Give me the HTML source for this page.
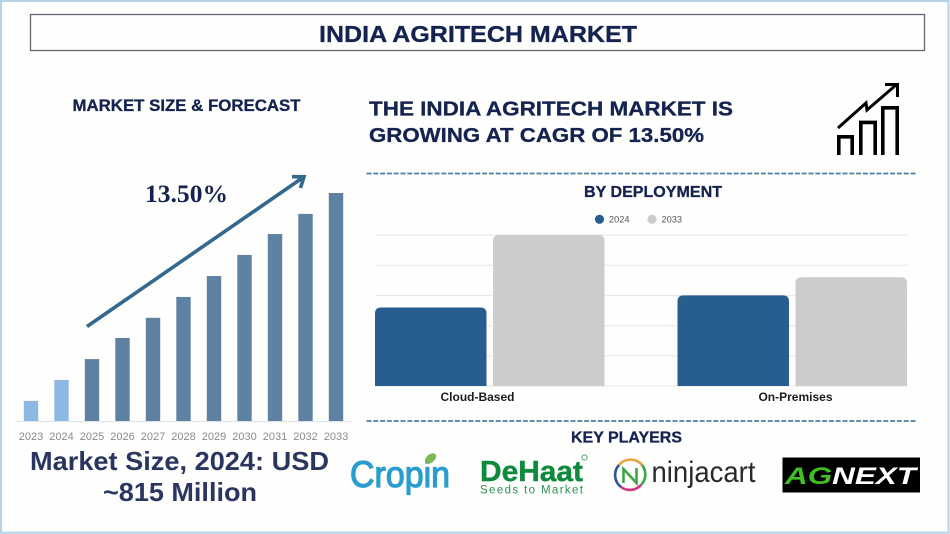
<!DOCTYPE html>
<html lang="en">
<head>
<meta charset="utf-8">
<title>India Agritech Market</title>
<style>
html,body{margin:0;padding:0;background:#fefefd;}
svg{display:block;}
text{font-family:"Liberation Sans",sans-serif;}
.navy{fill:#14234f;font-weight:700;stroke:#14234f;stroke-width:0.3;}
</style>
</head>
<body>
<svg id="infographic" xmlns="http://www.w3.org/2000/svg" width="950" height="534" viewBox="0 0 950 534">
  <rect x="0" y="0" width="950" height="534" fill="#fefefd"/>
  <rect x="1" y="1" width="947.5" height="531.7" fill="none" stroke="#b4d2e8" stroke-width="2"/>
  <rect x="30.5" y="14.5" width="894" height="36" fill="none" stroke="#62666f" stroke-width="1.3"/>
  <text class="navy" x="319" y="42" font-size="23" textLength="318" lengthAdjust="spacingAndGlyphs">INDIA AGRITECH MARKET</text>

  <text class="navy" x="72.5" y="111" font-size="16.5" textLength="228" lengthAdjust="spacingAndGlyphs">MARKET SIZE &amp; FORECAST</text>
  <text x="145" y="202" font-size="25" font-weight="700" fill="#14234f" style="font-family:'Liberation Serif',serif" textLength="83" lengthAdjust="spacingAndGlyphs">13.50%</text>

  <g id="forecast-chart"></g>

  <g fill="none" stroke="#33688f" stroke-width="3.6">
    <line x1="87" y1="326.5" x2="303" y2="177.5"/>
    <polyline points="292,176.7 304,176.8 300.5,188"/>
  </g>

  <text x="30" y="470" font-size="26" font-weight="700" fill="#2a3560" textLength="299" lengthAdjust="spacingAndGlyphs">Market Size, 2024: USD</text>
  <text x="103" y="501" font-size="26" font-weight="700" fill="#2a3560" textLength="154" lengthAdjust="spacingAndGlyphs">~815 Million</text>

  <text class="navy" x="369" y="115.5" font-size="20" textLength="364" lengthAdjust="spacingAndGlyphs">THE INDIA AGRITECH MARKET IS</text>
  <text class="navy" x="369" y="142" font-size="20" textLength="335" lengthAdjust="spacingAndGlyphs">GROWING AT CAGR OF 13.50%</text>

  <g fill="none" stroke="#000" stroke-width="3.6">
    <path d="M838.8 155V136.8H852.2V155"/>
    <path d="M860.8 155V122.4H875.2V155"/>
    <path d="M882.8 155V107.8H897.2V155"/>
    <polyline points="838,128 866,103 867,110 896,85" stroke-width="3"/>
    <polyline points="885,84.5 897.5,84.5 897.5,97" stroke-width="3"/>
  </g>

  <line x1="366.5" y1="173.5" x2="917" y2="173.5" stroke="#4d7fa3" stroke-width="1.8" stroke-dasharray="5 1.8"/>
  <text class="navy" x="584" y="197" font-size="16" textLength="138" lengthAdjust="spacingAndGlyphs">BY DEPLOYMENT</text>

  <g id="deployment-chart"></g>

  <line x1="366.5" y1="421" x2="917" y2="421" stroke="#4d7fa3" stroke-width="1.8" stroke-dasharray="5 1.8"/>
  <text class="navy" x="571" y="442.5" font-size="16" textLength="111" lengthAdjust="spacingAndGlyphs">KEY PLAYERS</text>

  <g>
    <text x="350" y="487" font-size="37" fill="#2a9dd0" stroke="#2a9dd0" stroke-width="1.2" textLength="100" lengthAdjust="spacingAndGlyphs">Cropin</text>
    <ellipse cx="430.5" cy="458.5" rx="6.5" ry="4" transform="rotate(-40 430.5 458.5)" fill="#7db55a"/>
  </g>

  <g>
    <text x="480" y="481" font-size="29" font-weight="700" fill="#0e8a3e" stroke="#0e8a3e" stroke-width="0.4" textLength="103" lengthAdjust="spacingAndGlyphs">DeHaat</text>
    <text x="480" y="493.5" font-size="11.5" fill="#2f8f57" textLength="103" lengthAdjust="spacing">Seeds to Market</text>
    <circle cx="584.5" cy="457.5" r="2.6" fill="none" stroke="#5fa87c" stroke-width="1"/>
  </g>

  <g>
    <g fill="none" stroke-width="2.6">
      <path d="M619 465A15 15 0 0 1 642 465" stroke="#e8a33d"/>
      <path d="M642 465A15 15 0 0 1 641 485" stroke="#3fa648"/>
      <path d="M641 485A15 15 0 0 1 621 487" stroke="#d8327e"/>
      <path d="M621 487A15 15 0 0 1 619 465" stroke="#34509c"/>
    </g>
    <path d="M623.5 483V469L636.5 483V468" fill="none" stroke="#3fa648" stroke-width="2.6"/>
    <text x="651.5" y="482" font-size="30" fill="#2a2a2a" textLength="104" lengthAdjust="spacingAndGlyphs">ninjacart</text>
  </g>

  <g>
    <rect x="782.5" y="457.5" width="137.5" height="35" fill="#000"/>
    <text x="785" y="484" font-size="24" font-weight="700" font-style="italic" fill="#fff" textLength="131" lengthAdjust="spacingAndGlyphs"><tspan fill="#3fbf22">AG</tspan>NEXT</text>
  </g>
</svg>
<script>
var forecastYears = ['2023','2024','2025','2026','2027','2028','2029','2030','2031','2032','2033'];
var forecastValues = [400,815,1230,1650,2050,2465,2880,3300,3715,4115,4530];
var historicalLastYear = 2024;

var deploymentCategories = ['Cloud-Based','On-Premises'];
var deployment2024 = [26,30];
var deployment2033 = [50,36];
var deploymentSeriesNames = ['2024','2033'];
var deploymentTicks = [0,10,20,30,40,50];

var SVG_NS = 'http://www.w3.org/2000/svg';
function make(tag, attrs, parent, text) {
  var el = document.createElementNS(SVG_NS, tag);
  for (var k in attrs) { el.setAttribute(k, attrs[k]); }
  if (text !== undefined) { el.textContent = text; }
  parent.appendChild(el);
  return el;
}

/* Market size forecast chart */
var fc = document.getElementById('forecast-chart');
var fcBase = 421;
function fcX(i) { return 31 + i * 30.5; }
function fcY(v) { return fcBase - v * (228 / 4530); }
forecastValues.forEach(function (v, i) {
  var historical = Number(forecastYears[i]) <= historicalLastYear;
  var bar = make('rect', {x: fcX(i) - 7.2, y: fcY(v), width: 14.4, height: fcBase - fcY(v), fill: historical ? '#8db8e2' : '#5f81a2'}, fc);
  
  
  var lab = make('text', {x: fcX(i), y: 440, 'font-size': 11, fill: '#8a8a8a', 'text-anchor': 'middle'}, fc, forecastYears[i]);
  
  
});
var fcAxis = make('line', {x1: 16, y1: fcBase + 0.5, x2: 351, y2: fcBase + 0.5, stroke: '#dde3ec', 'stroke-width': 1}, fc);



/* Deployment chart */
var dc = document.getElementById('deployment-chart');
var dcBase = 386;
var dcGroupStart = [375, 677.5];
var dcLabelCenter = [102.5, 118];
function dcY(v) { return dcBase - v * (151 / 50); }
function topRounded(x, y, w, h, r) {
  return 'M' + x + ' ' + (y + h) + 'V' + (y + r) + 'Q' + x + ' ' + y + ' ' + (x + r) + ' ' + y +
         'H' + (x + w - r) + 'Q' + (x + w) + ' ' + y + ' ' + (x + w) + ' ' + (y + r) + 'V' + (y + h) + 'Z';
}
deploymentTicks.forEach(function (t) {
  var g = make('line', {x1: 375, x2: 907.5, y1: dcY(t), y2: dcY(t), stroke: '#e6e6e6', 'stroke-width': 1}, dc);
  
  
});
deploymentCategories.forEach(function (c, i) {
  var x0 = dcGroupStart[i];
  var a = make('path', {d: topRounded(x0, dcY(deployment2024[i]), 111.5, dcBase - dcY(deployment2024[i]), 6), fill: '#285e8e'}, dc);
  
  
  var b = make('path', {d: topRounded(x0 + 118, dcY(deployment2033[i]), 111.5, dcBase - dcY(deployment2033[i]), 6), fill: '#cccccc'}, dc);
  
  
  var l = make('text', {x: x0 + dcLabelCenter[i], y: 401, 'font-size': 12, 'font-weight': 700, fill: '#1c1c1c', 'text-anchor': 'middle'}, dc, c);
  
  
});
var legendColors = ['#285e8e', '#cccccc'];
var legendX = [599.5, 652];
deploymentSeriesNames.forEach(function (n, i) {
  var dot = make('circle', {cx: legendX[i], cy: 219.3, r: 4.6, fill: legendColors[i]}, dc);
  
  
  var t = make('text', {x: legendX[i] + 9.5, y: 222.5, 'font-size': 9.5, fill: '#555', textLength: 20.5, lengthAdjust: 'spacingAndGlyphs'}, dc, n);
  
  
});
</script>
</body>
</html>
